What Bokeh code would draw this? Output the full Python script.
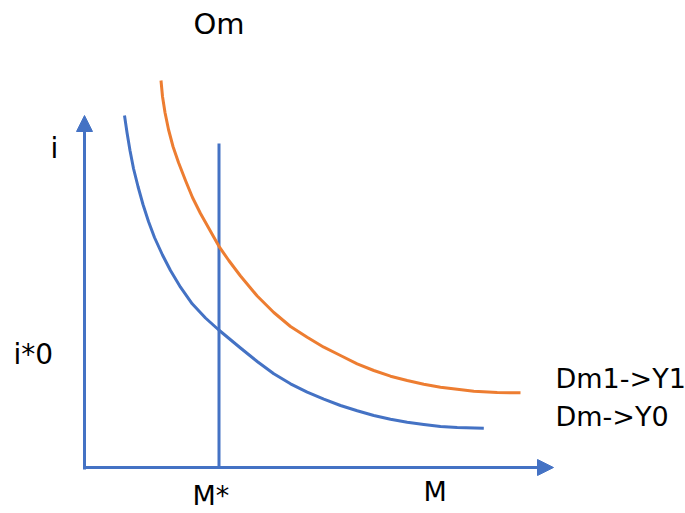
from bokeh.plotting import figure
from bokeh.models import Range1d, Arrow, NormalHead, ColumnDataSource
from bokeh.core.properties import value
from bokeh.embed import file_html
from bokeh.resources import INLINE

# ---- data (units = M along x, i along y) ----
dm_M = [40, 42.5, 45.5, 49, 53.5, 58.5, 64, 70, 78, 86, 96, 107.7, 121, 134.3, 156,
        172.7, 189.3, 206, 222.7, 239.3, 256, 272.7, 289.3, 306, 322.7, 339.3, 356, 372.7, 399.3]
dm_i = [352, 335, 317, 299, 281, 263, 246, 230, 212.5, 197, 180.3, 163.7, 149.5, 137.5, 119.5,
        106, 93.7, 83.7, 75.3, 68.3, 62, 56.7, 52, 48.3, 45.3, 43, 41, 40, 39.3]

dm1_M = [76.5, 78, 80.5, 84, 88.5, 94, 101, 108, 116, 125, 135, 144.3, 156, 172.7, 189.3,
         206, 222.7, 239.3, 256, 272.7, 289.3, 306, 322.7, 339.3, 356, 372.7, 389.3, 412.7, 436]
dm1_i = [387, 371, 355, 338, 321, 305, 287, 270, 254, 238, 220.3, 207, 191.5, 171.5, 155,
         141, 130.3, 120.3, 112, 103.7, 97, 91.3, 87, 83.3, 80.3, 78.3, 76.3, 75, 74.7]

om_M = [134.5, 134.5]
om_i = [0, 324]

axis_M_max = 469
axis_i_max = 352

label_text = ["Om", "i", "i*0", "M*", "M", "Dm1->Y1", "Dm->Y0"]
label_x = [109, -34, -71, 108, 339, 471, 471]
label_y = [444, 319, 113, -28, -24, 89, 51]
label_size = ["29px", "28px", "28px", "27px", "27px", "27px", "27px"]

BLUE = "#4472C4"
ORANGE = "#ED7D31"

p = figure(width=685, height=513, output_backend="svg", toolbar_location=None,
           x_range=Range1d(-84, 601), y_range=Range1d(-46, 467),
           min_border=0, outline_line_color=None)
p.axis.visible = False
p.grid.visible = False
p.background_fill_color = "white"
p.border_fill_color = "white"

# axes with arrows
p.add_layout(Arrow(end=NormalHead(size=16, fill_color=BLUE, line_color=BLUE, line_width=1),
                   x_start=0, y_start=-2, x_end=0, y_end=axis_i_max,
                   line_color=BLUE, line_width=3))
p.add_layout(Arrow(end=NormalHead(size=16, fill_color=BLUE, line_color=BLUE, line_width=1),
                   x_start=-1, y_start=0, x_end=axis_M_max, y_end=0,
                   line_color=BLUE, line_width=3))

# money supply (vertical) and demand curves
p.line(om_M, om_i, line_color=BLUE, line_width=3)
p.line(dm_M, dm_i, line_color=BLUE, line_width=3, line_join="round")
p.line(dm1_M, dm1_i, line_color=ORANGE, line_width=3, line_join="round")

src = ColumnDataSource(dict(x=label_x, y=label_y, t=label_text, s=label_size))
p.text(x="x", y="y", text="t", source=src, text_font=value("DejaVu Sans"),
       text_font_size="s", text_align="left", text_baseline="middle",
       text_color="#000000")

open("out.html", "w").write(file_html(p, INLINE))
